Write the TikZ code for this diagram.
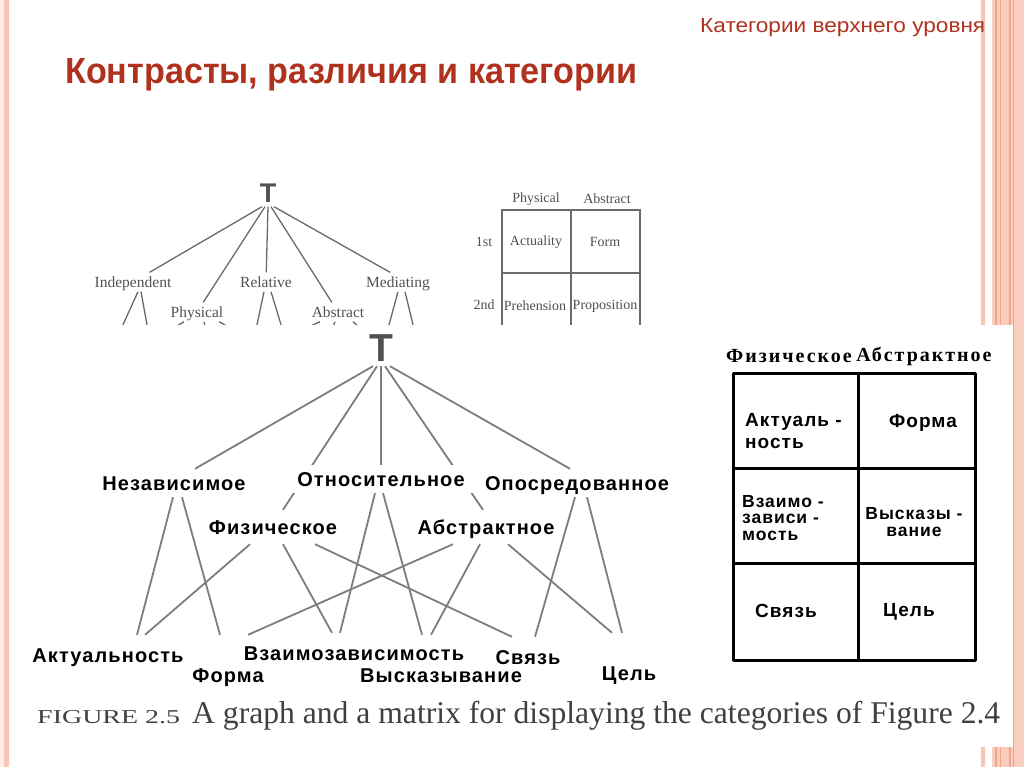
\documentclass[tikz,border=0pt]{standalone}
\usepackage{fontspec}
\setmainfont{Liberation Serif}
\newfontfamily\arialf{Liberation Sans}
\newfontfamily\rulab[LetterSpace=5.5]{Liberation Sans}
\newfontfamily\hdrf[LetterSpace=10]{Liberation Serif}
\definecolor{slideRed}{RGB}{176,50,30}
\definecolor{stripe}{RGB}{249,197,180}
\definecolor{stripeDk}{RGB}{242,164,138}
\definecolor{scanGray}{RGB}{80,80,80}
\definecolor{edgeGray}{RGB}{125,125,125}
\pgfdeclarelayer{deco}
\pgfdeclarelayer{lines}
\pgfsetlayers{deco,lines,main}
\begin{document}
\begin{tikzpicture}[x=1pt,y=-1pt,line join=round,line cap=round,
	ru/.style={font=\rulab\bfseries\fontsize{20}{22}\selectfont,text height=14pt,text depth=0pt,inner xsep=2pt,inner ysep=7pt},
	rumid/.style={ru,inner ysep=10pt},
	leaf/.style={ru,inner ysep=13pt},
	leaflow/.style={ru,inner ysep=33pt},
	en/.style={font=\fontsize{15.5}{17}\selectfont,text=scanGray,text height=10pt,text depth=0pt,inner sep=4.5pt},
	entab/.style={font=\fontsize{14}{16}\selectfont,text=scanGray,inner sep=0pt},
	cell/.style={font=\rulab\bfseries\fontsize{19}{#1}\selectfont,inner sep=0pt},
	cell/.default=16,
	tight/.style={font=\rulab\bfseries\fontsize{17.5}{#1}\selectfont,inner sep=0pt},
	edge/.style={draw=edgeGray,line width=1.8pt},
	enedge/.style={draw=scanGray!85,line width=1.3pt}]
	\useasboundingbox (0,0) rectangle (1024,767);

	\node[anchor=base west,text=slideRed,inner sep=0pt] (subt) at (700,33) {\resizebox{285pt}{14pt}{\arialf Категории верхнего уровня}};
	\node[anchor=base west,text=slideRed,inner sep=0pt] (title) at (65,84) {\resizebox{572pt}{25pt}{\arialf\bfseries Контрасты, различия и категории}};

	\node[font=\arialf\bfseries\fontsize{27}{29}\selectfont,text=scanGray,text height=19pt,text depth=0pt,inner sep=4pt] (tEn) at (268,193) {T};
	\node[en] (ind) at (133,282) {Independent};
	\node[en] (rel) at (266,282) {Relative};
	\node[en] (med) at (398,282) {Mediating};
	\node[en] (phy) at (197,312) {Physical};
	\node[en] (abt) at (338,312) {Abstract};
	\node[entab] (hPhy) at (536,199) {Physical};
	\node[entab] (hAbt) at (607,199) {Abstract};
	\node[entab] (r1) at (484,242) {1st};
	\node[entab] (r2) at (484,305) {2nd};
	\node[entab] (cAct) at (536,242) {Actuality};
	\node[entab] (cForm) at (605,242) {Form};
	\node[entab] (cPre) at (535,306) {Prehension};
	\node[entab] (cPro) at (605,306) {Proposition};

	\node[font=\arialf\bfseries\fontsize{39}{41}\selectfont,text=scanGray,text height=28pt,text depth=0pt,inner sep=5pt] (tRu) at (381,347) {T};
	\node[ru] (nez) at (174,483) {Независимое};
	\node[ru,fill=white,inner xsep=12pt] (otn) at (381,479) {Относительное};
	\node[ru] (opo) at (577,483) {Опосредованное};
	\node[rumid] (fiz) at (273,527) {Физическое};
	\node[rumid] (abs) at (486,527) {Абстрактное};
	\node[leaf] (akt) at (108,655) {Актуальность};
	\node[leaflow] (forma) at (228,675) {Форма};
	\node[leaf] (vza) at (354,653) {Взаимозависимость};
	\node[leaflow] (vys) at (441,675) {Высказывание};
	\node[leaf] (svz) at (528,657) {Связь};
	\node[leaflow] (cel) at (629,673) {Цель};

	\node[font=\hdrf\bfseries\fontsize{20}{22}\selectfont] (mFiz) at (789,356) {Физическое};
	\node[font=\hdrf\bfseries\fontsize{20}{22}\selectfont] (mAbs) at (924,356) {Абстрактное};
	\node[cell=22,align=left,anchor=west] (m11) at (745,431) {Актуаль -\\ность};
	\node[cell] (m12) at (923,423) {Форма};
	\node[tight=16.5,align=left,anchor=west] (m21) at (742,518) {Взаимо -\\зависи -\\мость};
	\node[tight=17,align=center] (m22) at (914,522) {Высказы -\\вание};
	\node[cell] (m31) at (786,611) {Связь};
	\node[cell] (m32) at (909,612) {Цель};
	\draw[line width=3pt,line cap=rect] (733,373) rectangle (975,660) (858,373) -- (858,660) (733,468) -- (975,468) (733,563) -- (975,563);

	\node[anchor=base west,text=black!75,inner sep=0pt] (capFig) at (37,723) {\resizebox{143pt}{13pt}{FIGURE 2.5}};
	\node[anchor=base west,text=black!75,inner sep=0pt] (capTxt) at (192,723) {\resizebox{808pt}{!}{\fontsize{26}{28}\selectfont A graph and a matrix for displaying the categories of Figure 2.4}};

	\begin{pgfonlayer}{deco}
		\fill[stripe!35] (0,0) rectangle (4,767);
		\fill[stripe] (4,0) rectangle (9,767) (981,0) rectangle (985,767);
		\fill[stripe!85] (992,0) rectangle (1024,767);
		\foreach \x in {996,1000.5,1010,1013.5}
			\draw[stripeDk,line width=1.2pt] (\x,0) -- (\x,767);
		\draw[enedge] ([xshift=5pt]ind.south) -- ++(-30,66) ([xshift=8pt]ind.south) -- ++(12,66)
			([xshift=-13pt]phy.south) -- ++(-40,25) ([xshift=7pt]phy.south) -- ++(5,20) ([xshift=22pt]phy.south) -- ++(45,25)
			([xshift=-2pt]rel.south) -- ++(-14,66) ([xshift=5pt]rel.south) -- ++(20,66)
			([xshift=-18pt]abt.south) -- ++(-44,20) ([xshift=-3pt]abt.south) -- ++(-8,20) ([xshift=15pt]abt.south) -- ++(22,20)
			(med.south) -- ++(-18,66) ([xshift=7pt]med.south) -- ++(16,66);
		\draw[enedge] (502,340) -- (502,210) -- (640,210) -- (640,340) (571,210) -- (571,340) (502,273) -- (640,273);
		\fill[white] (14,325) rectangle (1013,747);
	\end{pgfonlayer}

	\begin{pgfonlayer}{lines}
		\draw[enedge] ([xshift=-6pt]tEn.south) -- (ind) ([xshift=-3pt]tEn.south) -- (phy) (tEn.south) -- (rel)
			([xshift=3pt]tEn.south) -- (abt) ([xshift=6pt]tEn.south) -- ([xshift=-8pt]med.north);
		\draw[edge] ([xshift=-8pt]tRu.south) -- ([xshift=21pt]nez.north)
			([xshift=-4pt]tRu.south) -- ([xshift=10pt]fiz.north)
			(tRu.south) -- (otn.north)
			([xshift=4pt]tRu.south) -- ([xshift=-3pt]abs.north)
			([xshift=9pt]tRu.south) -- ([xshift=-7pt]opo.north);
		\draw[edge] ([xshift=-1pt]nez.south) -- ([xshift=29pt]akt.north)
			([xshift=8pt]nez.south) -- ([xshift=-8pt]forma.north)
			([xshift=-6pt]otn.south) -- ([xshift=-14pt]vza.north)
			([xshift=2pt]otn.south) -- ([xshift=-19pt]vys.north)
			([xshift=-2pt]opo.south) -- ([xshift=7pt]svz.north)
			([xshift=10pt]opo.south) -- ([xshift=-7pt]cel.north);
		\draw[edge] ([xshift=-23pt]fiz.south) -- ([xshift=37pt]akt.north)
			([xshift=10pt]fiz.south) -- ([xshift=-22pt]vza.north)
			([xshift=42pt]fiz.south) -- ([xshift=-16pt]svz.north)
			([xshift=-33pt]abs.south) -- ([xshift=20pt]forma.north)
			([xshift=-6pt]abs.south) -- ([xshift=-10pt]vys.north)
			([xshift=22pt]abs.south) -- ([xshift=-17pt]cel.north);
	\end{pgfonlayer}
\end{tikzpicture}
\end{document}
